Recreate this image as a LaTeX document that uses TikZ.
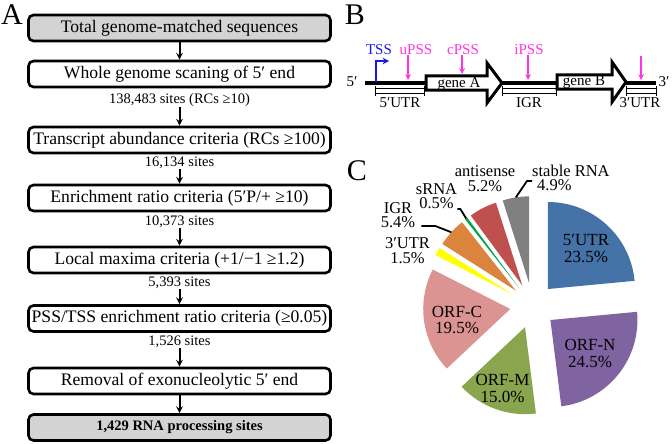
\documentclass[tikz,border=0pt]{standalone}
\usepackage{fontspec}
\setmainfont{Liberation Serif}
\usetikzlibrary{positioning}

\definecolor{boxgray}{RGB}{211,211,211}
\definecolor{pssmag}{RGB}{255,51,230}
\definecolor{tssblue}{RGB}{25,25,235}
\definecolor{utrfive}{RGB}{69,114,167}
\definecolor{orfn}{RGB}{128,100,162}
\definecolor{orfm}{RGB}{137,165,78}
\definecolor{orfc}{RGB}{219,148,146}
\definecolor{utrthree}{RGB}{255,255,0}
\definecolor{igrc}{RGB}{219,132,61}
\definecolor{srnac}{RGB}{0,166,80}
\definecolor{antic}{RGB}{192,80,77}
\definecolor{stablec}{RGB}{128,128,128}

\tikzset{
  stepbox/.style={draw,line width=2.6pt,rounded corners=5pt,minimum width=302pt,
    minimum height=26pt,inner sep=0pt,font=\fontsize{17.6}{17.6}\selectfont},
  countlbl/.style={inner sep=0pt,font=\fontsize{14.5}{14.5}\selectfont},
  flowarr/.style={->,line width=2pt},
  panlbl/.style={inner sep=0pt,font=\fontsize{30}{30}\selectfont},
  genearr/.style={draw,fill=white,line width=3pt,line join=miter},
  genelbl/.style={inner sep=0pt,font=\fontsize{15}{15}\selectfont},
  brk/.style={line width=0.9pt},
  psslbl/.style={inner sep=0pt,text=pssmag,font=\fontsize{15}{15}\selectfont},
  pssarr/.style={->,pssmag,line width=1.6pt},
  tssarr/.style={->,tssblue,line width=1.8pt},
  pielbl/.style={inner sep=0pt,align=center,font=\fontsize{17}{16.5}\selectfont},
  smalllbl/.style={inner sep=0pt,align=center,font=\fontsize{16.5}{14.5}\selectfont},
  leader/.style={line width=1.8pt},
}

\begin{document}
\begin{tikzpicture}[x=1pt,y=-1pt,>=stealth]
\useasboundingbox (0,0) rectangle (672,444);

% A: filtering steps
\node[panlbl] (labA) at (12,15) {A};
\node[stepbox,fill=boxgray] (b1) at (179.5,28) {Total genome-matched sequences};
\node[stepbox] (b2) at (179.5,74) {Whole genome scaning of 5′ end};
\node[countlbl] (c1) at (179.5,100) {138,483 sites (RCs ≥10)};
\node[stepbox] (b3) at (179.5,140) {Transcript abundance criteria (RCs ≥100)};
\node[countlbl] (c2) at (179.5,163) {16,134 sites};
\node[stepbox] (b4) at (179.5,198) {Enrichment ratio criteria (5′P/+ ≥10)};
\node[countlbl] (c3) at (179.5,222) {10,373 sites};
\node[stepbox] (b5) at (179.5,260) {Local maxima criteria (+1/−1 ≥1.2)};
\node[countlbl] (c4) at (179.5,283) {5,393 sites};
\node[stepbox] (b6) at (179.5,318.5) {PSS/TSS enrichment ratio criteria (≥0.05)};
\node[countlbl] (c5) at (179.5,342) {1,526 sites};
\node[stepbox] (b7) at (179.5,381) {Removal of exonucleolytic 5′ end};
\node[stepbox,fill=boxgray,font=\bfseries\fontsize{14.5}{14.5}\selectfont] (b8) at (179.5,427.5) {1,429 RNA processing sites};

\draw[flowarr] (b1) -- (b2);
\draw[flowarr] (c1) -- (b3);
\draw[flowarr] (c2) -- (b4);
\draw[flowarr] (c3) -- (b5);
\draw[flowarr] (c4) -- (b6);
\draw[flowarr] (c5) -- (b7);
\draw[flowarr] (b7) -- (b8);

% B: gene map
\node[panlbl] (labB) at (355,15) {B};
\coordinate (gl5) at (365,83);
\coordinate (gl3) at (656,83);
\draw[line width=3pt] (gl5) -- (gl3);
\node[genelbl] (e5) at (352,82) {5′};
\node[genelbl] (e3) at (664,82) {3′};

\draw[genearr] (426,76) -- (487,76) -- (487,63) -- (502,83) -- (487,103) -- (487,90) -- (426,90) -- cycle;
\node[genelbl] (geneA) at (459,84) {gene A};
\draw[genearr] (557,75) -- (612,75) -- (612,62) -- (626,82) -- (612,102) -- (612,89) -- (557,89) -- cycle;
\node[genelbl] (geneB) at (584,82) {gene B};

\foreach \u/\v in {375/424,502/556,626/656} {
  \draw[brk] (\u,88) rectangle (\v,93);
  \draw[brk] (\u,86) -- (\u,96);
  \draw[brk] (\v,86) -- (\v,96);
}
\node[genelbl] (utr5) at (400,103) {5′UTR};
\node[genelbl] (igr) at (529,103) {IGR};
\node[genelbl] (utr3) at (640,103) {3′UTR};

\node[genelbl,text=tssblue] (tss) at (379,50) {TSS};
\coordinate (tssA) at (376,82);
\coordinate (tssB) at (376,61);
\coordinate (tssC) at (389,61);
\draw[tssarr] (tssA) -- (tssB) -- (tssC);

\node[psslbl] (upss) at (416,50) {uPSS};
\node[psslbl] (cpss) at (463,50) {cPSS};
\node[psslbl] (ipss) at (529,50) {iPSS};
\coordinate (uT) at (408,80);
\coordinate (cT) at (462,74);
\coordinate (iT) at (528,80);
\coordinate (tT) at (641,80);
\coordinate (tS) at (641,56);
\draw[pssarr] (upss.south -| uT) -- (uT);
\draw[pssarr] (cpss.south -| cT) -- (cT);
\draw[pssarr] (ipss.south -| iT) -- (iT);
\draw[pssarr] (tS) -- (tT);

% C: exploded pie
\node[panlbl] (labC) at (357,171) {C};
\begin{scope}[shift={(532.7,305.8)},y=1pt]
\foreach \a/\b/\c in {5.4/90/utrfive,-82.8/5.4/orfn,-136.8/-82.8/orfm,-207/-136.8/orfc,
    147.6/153/utrthree,128.2/147.6/igrc,126.4/128.2/srnac,107.7/126.4/antic,90/107.7/stablec}
  \fill[\c] ({(\a+\b)/2}:22.7) -- ++(\a:87) arc[start angle=\a,end angle=\b,radius=87] -- cycle;
\coordinate (stE) at (98.85:109.7);
\coordinate (srE) at (127.3:109.7);
\coordinate (igE) at (137.9:109.7);
\end{scope}

\node[pielbl] (p5u) at (586,248.5) {5′UTR\\23.5\%};
\node[pielbl] (pn) at (590,353.5) {ORF-N\\24.5\%};
\node[pielbl] (pm) at (502.5,388.5) {ORF-M\\15.0\%};
\node[pielbl] (pc) at (457,320) {ORF-C\\19.5\%};

\node[smalllbl] (anl) at (485,178.5) {antisense\\5.2\%};
\node[smalllbl,align=left,anchor=west] (stl) at (532,178) {stable RNA\\\hspace*{5pt}4.9\%};
\node[smalllbl] (srl) at (436.5,196) {sRNA\\0.5\%};
\node[smalllbl] (igl) at (398,215) {IGR\\5.4\%};
\node[smalllbl] (u3l) at (407.5,250.5) {3′UTR\\1.5\%};

\draw[leader] ([yshift=-3pt]stl.west) -- ++(-5,0) -- (stE);
\draw[leader] (srl.south east) -- ++(3,0) -- (srE);
\draw[leader] ([xshift=6pt,yshift=2pt]igl.south east) -- ++(14,0) -- (igE);
\end{tikzpicture}
\end{document}
